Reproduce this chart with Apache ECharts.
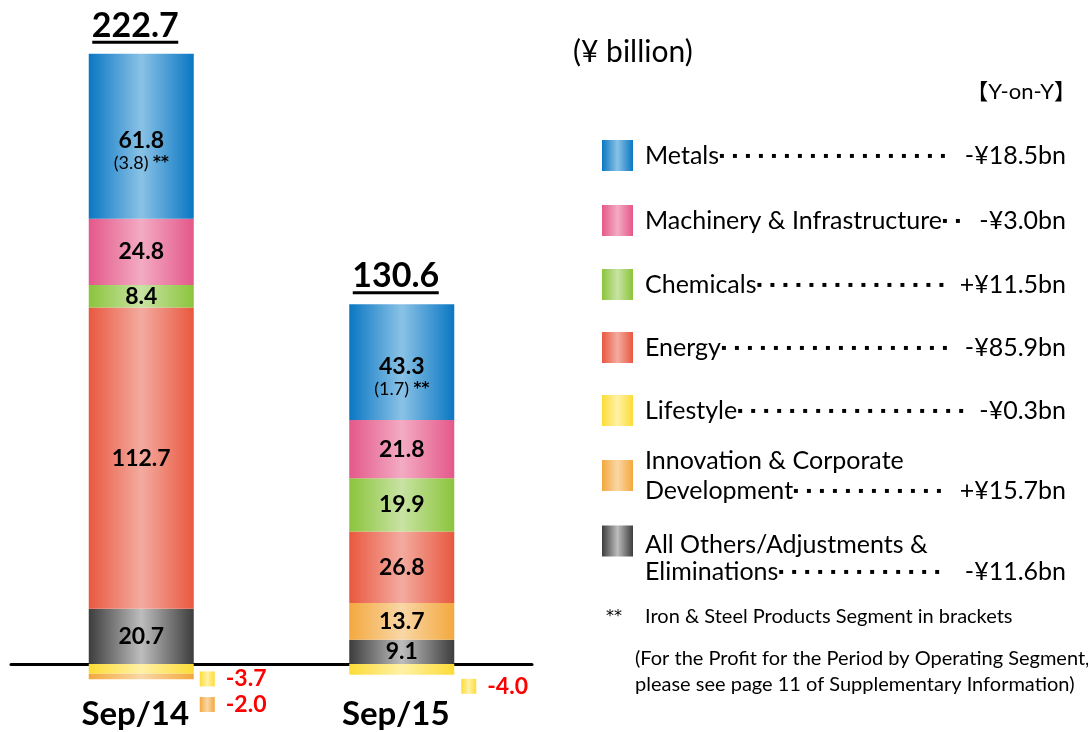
<!DOCTYPE html>
<html>
<head>
<meta charset="utf-8">
<script src="https://cdn.jsdelivr.net/npm/echarts@6/dist/echarts.min.js"></script>
<style>
  html, body { margin: 0; padding: 0; background: #fff; }
  #chart { width: 1088px; height: 732px; }
</style>
</head>
<body>
<div id="chart"></div>
<script>
// values in ¥ billion
const periods = ['Sep/14', 'Sep/15'];
const segments = ['Metals', 'Machinery & Infrastructure', 'Chemicals', 'Energy', 'Lifestyle',
  'Innovation & Corporate Development', 'All Others/Adjustments & Eliminations'];
const legendLabels = ['Metals', 'Machinery & Infrastructure', 'Chemicals', 'Energy', 'Lifestyle',
  'Innovation & Corporate\nDevelopment', 'All Others/Adjustments &\nEliminations'];
const metals = [61.8, 43.3];
const machinery = [24.8, 21.8];
const chemicals = [8.4, 19.9];
const energy = [112.7, 26.8];
const lifestyle = [-3.7, -4.0];
const innovation = [-2.0, 13.7];
const others = [20.7, 9.1];
const ironSteel = [3.8, 1.7];
const totals = [222.7, 130.6];
const yoy = ['-¥18.5bn', '-¥3.0bn', '+¥11.5bn', '-¥85.9bn', '-¥0.3bn', '+¥15.7bn', '-¥11.6bn'];
const dotCount = [18, 2, 15, 18, 18, 12, 13];

const FONT = 'Lato, "Noto Sans CJK JP", sans-serif';

function grad(edge, mid) {
  return {
    type: 'linear', x: 0, y: 0, x2: 1, y2: 0,
    colorStops: [{ offset: 0, color: edge }, { offset: 0.5, color: mid }, { offset: 1, color: edge }]
  };
}

const colors = {
  'Metals': grad('#0a77c3', '#8ac2e6'),
  'Machinery & Infrastructure': grad('#e4588a', '#f3abc3'),
  'Chemicals': grad('#8bc43b', '#c8e3a3'),
  'Energy': grad('#e9583f', '#f3aba0'),
  'Lifestyle': grad('#fddc36', '#fff1a6'),
  'Innovation & Corporate Development': grad('#f3a83e', '#f9d7a6'),
  'All Others/Adjustments & Eliminations': grad('#3d3d3d', '#bdbdbd')
};

// stacking order, bottom up (negatives: Lifestyle next to zero, then Innovation)
const stackOrder = [
  [segments[6], others],
  [segments[4], lifestyle],
  [segments[5], innovation],
  [segments[3], energy],
  [segments[2], chemicals],
  [segments[1], machinery],
  [segments[0], metals]
];

// vertical nudges for the small negative labels beside the bars
const negOffset = { 'Lifestyle': [10, 17], 'Innovation & Corporate Development': [28, 28] };

const series = stackOrder.map(([name, vals]) => {
  const negRich = {
    sq: { width: 15, height: 15, backgroundColor: colors[name] },
    t: { fontFamily: FONT, fontSize: 23, fontWeight: 'bold', color: '#ff0000', padding: [0, 0, 0, 11] }
  };
  return {
    name: name,
    type: 'bar',
    stack: 'total',
    barWidth: 105,
    itemStyle: { color: colors[name] },
    data: vals.map((v, i) => v < 0 ? {
      value: v,
      label: {
        show: true,
        position: 'right',
        distance: i === 0 ? 6 : 7,
        offset: [0, negOffset[name][i]],
        fontFamily: FONT, fontSize: 23, fontWeight: 'bold', color: '#ff0000',
        formatter: '{sq|}{t|' + v.toFixed(1) + '}',
        rich: negRich
      }
    } : v),
    label: {
      show: true,
      position: 'inside',
      color: '#000',
      fontFamily: FONT,
      fontSize: 23,
      fontWeight: 'bold',
      offset: name === 'Metals' ? [0, 15] : [0, 0],
      formatter: p => {
        if (name === 'Metals') {
          return '{b|' + p.value.toFixed(1) + '}\n{s|(' + ironSteel[p.dataIndex].toFixed(1) + ') }{a|**}';
        }
        return p.value.toFixed(1);
      },
      rich: {
        b: { fontFamily: FONT, fontSize: 23, fontWeight: 'bold', color: '#000', lineHeight: 24 },
        s: { fontFamily: FONT, fontSize: 18, fontWeight: 'normal', color: '#000', lineHeight: 22 },
        a: { fontFamily: 'DejaVu Sans', fontSize: 15, fontWeight: 'bold', color: '#000', lineHeight: 22 }
      }
    }
  };
});

// totals sit on top of the positive stack
const positiveTop = periods.map((_, i) =>
  [metals, machinery, chemicals, energy, lifestyle, innovation, others]
    .reduce((s, arr) => s + Math.max(arr[i], 0), 0));

series.push({
  name: 'Total',
  type: 'scatter',
  symbolSize: 0,
  silent: true,
  z: 5,
  itemStyle: { opacity: 1 },
  data: positiveTop,
  label: {
    show: true,
    opacity: 1,
    position: 'top',
    distance: 10,
    offset: [-6, 0],
    color: '#000',
    fontFamily: FONT, fontSize: 34, fontWeight: 'bold',
    formatter: p => '{n|' + totals[p.dataIndex].toFixed(1) + '}\n{u|}',
    rich: {
      n: { fontFamily: FONT, fontSize: 34, fontWeight: 'bold', color: '#000', lineHeight: 30 },
      u: { width: 86, height: 3, lineHeight: 3, backgroundColor: '#000' }
    }
  }
});

// one legend block per segment, with dotted leaders and the Y-on-Y change
const legendTop = [135, 200, 264, 327, 390, 443, 491.5];
const legends = segments.map((name, i) => {
  const lines = legendLabels[i].split('\n');
  const dots = '{d|▪}'.repeat(dotCount[i]);
  let text = lines.map((ln, k) => '{g|}{n|' + ln + '}' +
    (k === lines.length - 1 ? dots + '{v|' + yoy[i] + '}' : '')).join('\n');
  if (i === 6) text = '{e|}\n' + text;
  const lh = i === 6 ? 27 : 30;
  return {
    left: 597,
    top: legendTop[i],
    orient: 'vertical',
    itemWidth: 31,
    itemHeight: 31,
    icon: 'rect',
    selectedMode: false,
    data: [name],
    formatter: () => text,
    textStyle: {
      width: 428,
      rich: {
        e: { height: 35, lineHeight: 35 },
        g: { width: 7 },
        n: { fontFamily: FONT, fontSize: 25, color: '#000', lineHeight: lh },
        d: { width: 13, fontFamily: 'DejaVu Sans', fontSize: 8, color: '#000', lineHeight: lh },
        v: { align: 'right', fontFamily: FONT, fontSize: 25, color: '#000', lineHeight: lh }
      }
    }
  };
});

const chart = echarts.init(document.getElementById('chart'));
chart.setOption({
  animation: false,
  backgroundColor: '#fff',
  title: [
    { text: '(¥ billion)', left: 573, top: 37, padding: 0,
      textStyle: { fontFamily: FONT, fontSize: 30, fontWeight: 'normal', color: '#000' } },
    { text: '【Y-on-Y】', right: 12, top: 81, padding: 0,
      textStyle: { fontFamily: FONT, fontSize: 22, fontWeight: 'normal', color: '#000' } },
    { text: '**', left: 606, top: 609, padding: 0,
      textStyle: { fontFamily: 'DejaVu Sans', fontSize: 16, fontWeight: 'normal', color: '#000' } },
    { text: 'Iron & Steel Products Segment in brackets', left: 645, top: 607, padding: 0,
      textStyle: { fontFamily: FONT, fontSize: 20, fontWeight: 'normal', color: '#000' } },
    { text: '(For the Profit for the Period by Operating Segment,\nplease see page 11 of Supplementary Information)',
      left: 635, top: 646, padding: 0,
      textStyle: { fontFamily: FONT, fontSize: 20, fontWeight: 'normal', color: '#000', lineHeight: 26 } }
  ],
  legend: legends,
  // zero sits at y≈664; the axis labels hang just under the grid
  grid: { left: 11, width: 521, top: 22.7, height: 657.3, outerBoundsMode: 'none', containLabel: false },
  xAxis: {
    type: 'category',
    data: periods,
    axisLine: { onZero: true, lineStyle: { color: '#000', width: 3 } },
    axisTick: { show: false },
    axisLabel: {
      margin: 18,
      padding: [0, 12, 0, 0],
      fontFamily: FONT, fontSize: 33, fontWeight: 'bold', color: '#000'
    }
  },
  yAxis: { type: 'value', min: -6, max: 240, interval: 6, show: false },
  series: series
});
</script>
</body>
</html>
